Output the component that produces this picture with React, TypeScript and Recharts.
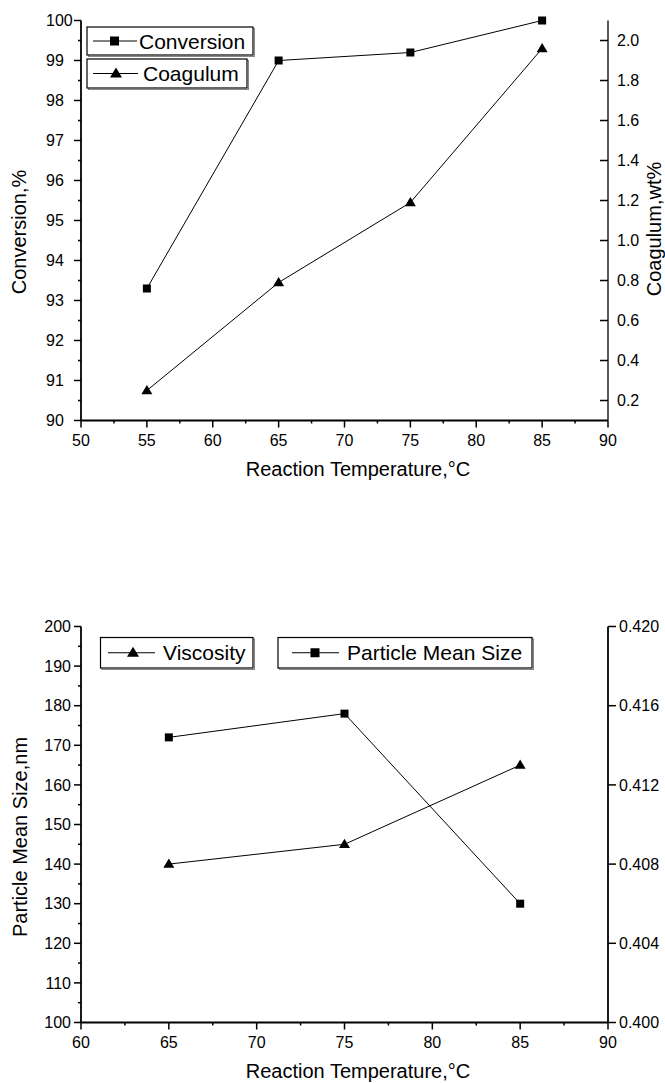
import React from 'react';
import { LineChart, Line, XAxis, YAxis } from 'recharts';

const FONT = '"Liberation Sans", Arial, Helvetica, sans-serif';

// upper panel: conversion and coagulum vs temperature
const temps1 = [55, 65, 75, 85];
const conversion = [93.3, 99.0, 99.2, 100.0];
const coagulum = [0.25, 0.79, 1.19, 1.96];

// lower panel: particle size and viscosity vs temperature
const temps2 = [65, 75, 85];
const particleSize = [172, 178, 130];
const viscosity = [0.408, 0.409, 0.413];

const xTicks1 = [50, 52.5, 55, 57.5, 60, 62.5, 65, 67.5, 70, 72.5, 75, 77.5, 80, 82.5, 85, 87.5, 90];
const convTicks = [90, 90.5, 91, 91.5, 92, 92.5, 93, 93.5, 94, 94.5, 95, 95.5, 96, 96.5, 97, 97.5, 98, 98.5, 99, 99.5, 100];
const coagTicks = [0.2, 0.4, 0.6, 0.8, 1.0, 1.2, 1.4, 1.6, 1.8, 2.0];
const xTicks2 = [60, 62.5, 65, 67.5, 70, 72.5, 75, 77.5, 80, 82.5, 85, 87.5, 90];
const sizeTicks = [100, 105, 110, 115, 120, 125, 130, 135, 140, 145, 150, 155, 160, 165, 170, 175, 180, 185, 190, 195, 200];
const viscTicks = [0.4, 0.404, 0.408, 0.412, 0.416, 0.42];

const data1 = temps1.map((t, i) => ({ t, conv: conversion[i], coag: coagulum[i] }));
const data2 = temps2.map((t, i) => ({ t, size: particleSize[i], visc: viscosity[i] }));

const txt = { fontFamily: FONT, fill: '#000' };

const Square = ({ cx, cy, s = 8 }: any) => <rect x={cx - s / 2} y={cy - s / 2} width={s} height={s} fill="#000" />;
const Tri = ({ cx, cy, s = 11 }: any) => {
  const h = s * 0.85;
  return <path d={`M${cx},${cy - h * 0.6}L${cx + s / 2},${cy + h * 0.4}L${cx - s / 2},${cy + h * 0.4}Z`} fill="#000" />;
};

const sqDot = (p: any) => <Square key={`s${p.index}`} cx={p.cx} cy={p.cy} />;
const triDot = (p: any) => <Tri key={`t${p.index}`} cx={p.cx} cy={p.cy} />;

// tick renderers (tickSize/tickMargin = 0 so x,y sit on the axis line)
const xTick = (p: any) => {
  const v = p.payload.value;
  const major = v % 5 === 0;
  return (
    <g>
      <line x1={p.x} x2={p.x} y1={p.y} y2={p.y + (major ? 7 : 3)} stroke="#000" strokeWidth={1.5} />
      {major && (
        <text x={p.x} y={p.y + 25.5} textAnchor="middle" fontSize={16} style={txt}>
          {v}
        </text>
      )}
    </g>
  );
};

const leftTick = (isMajor: (v: number) => boolean, anchor: 'start' | 'end', dx: number) => (p: any) => {
  const v = p.payload.value;
  const major = isMajor(v);
  return (
    <g>
      <line x1={p.x - (major ? 7 : 3)} x2={p.x} y1={p.y} y2={p.y} stroke="#000" strokeWidth={1.5} />
      {major && (
        <text x={p.x + dx} y={p.y} dy="0.36em" textAnchor={anchor} fontSize={16} style={txt}>
          {v}
        </text>
      )}
    </g>
  );
};

const rightTick = (inward: boolean, digits: number, dx: number) => (p: any) => {
  const v = p.payload.value;
  return (
    <g>
      <line x1={p.x} x2={p.x + (inward ? -8 : 8)} y1={p.y} y2={p.y} stroke="#000" strokeWidth={1.5} />
      <text x={p.x + dx} y={p.y} dy="0.36em" textAnchor="start" fontSize={16} style={txt}>
        {v.toFixed(digits)}
      </text>
    </g>
  );
};

const axisLine = { stroke: '#000', strokeWidth: 1.8 };
const frameLine = { stroke: '#000', strokeWidth: 1.3 };

const TopChart = () => (
  <LineChart width={665} height={500} data={data1} margin={{ top: 20.5, right: 0, bottom: 49.5, left: 0 }}>
    <XAxis xAxisId="b" dataKey="t" type="number" domain={[50, 90]} ticks={xTicks1} interval={0}
      height={30} tickSize={0} tickMargin={0} tickLine={false} axisLine={axisLine} tick={xTick} />
    <XAxis xAxisId="top" orientation="top" dataKey="t" type="number" domain={[50, 90]}
      height={0} tick={false} tickLine={false} axisLine={frameLine} />
    <YAxis yAxisId="left" type="number" domain={[90, 100]} ticks={convTicks} interval={0}
      width={81} tickSize={0} tickMargin={0} tickLine={false} axisLine={axisLine}
      tick={leftTick((v) => Number.isInteger(v), 'start', -35)} />
    <YAxis yAxisId="right" orientation="right" type="number" domain={[0.1, 2.1]} ticks={coagTicks} interval={0}
      width={57} tickSize={0} tickMargin={0} tickLine={false} axisLine={frameLine}
      tick={rightTick(true, 1, 9)} />
    <Line xAxisId="b" yAxisId="left" dataKey="conv" stroke="#000" strokeWidth={1} dot={sqDot}
      activeDot={false} isAnimationActive={false} />
    <Line xAxisId="b" yAxisId="right" dataKey="coag" stroke="#000" strokeWidth={1} dot={triDot}
      activeDot={false} isAnimationActive={false} />
  </LineChart>
);

const BottomChart = () => (
  <LineChart width={665} height={583} data={data2} margin={{ top: 126.5, right: 0, bottom: 30.5, left: 0 }}>
    <XAxis xAxisId="b" dataKey="t" type="number" domain={[60, 90]} ticks={xTicks2} interval={0}
      height={30} tickSize={0} tickMargin={0} tickLine={false} axisLine={axisLine} tick={xTick} />
    <XAxis xAxisId="top" orientation="top" dataKey="t" type="number" domain={[60, 90]}
      height={0} tick={false} tickLine={false} axisLine={axisLine} />
    <YAxis yAxisId="left" type="number" domain={[100, 200]} ticks={sizeTicks} interval={0}
      width={81} tickSize={0} tickMargin={0} tickLine={false} axisLine={axisLine}
      tick={leftTick((v) => v % 10 === 0, 'end', -10)} />
    <YAxis yAxisId="right" orientation="right" type="number" domain={[0.4, 0.42]} ticks={viscTicks} interval={0}
      width={57} tickSize={0} tickMargin={0} tickLine={false} axisLine={axisLine}
      tick={rightTick(false, 3, 11)} />
    <Line xAxisId="b" yAxisId="left" dataKey="size" stroke="#000" strokeWidth={1} dot={sqDot}
      activeDot={false} isAnimationActive={false} />
    <Line xAxisId="b" yAxisId="right" dataKey="visc" stroke="#000" strokeWidth={1} dot={triDot}
      activeDot={false} isAnimationActive={false} />
  </LineChart>
);

const LegendBox = ({ x, y, w, h, l1, l2, mx, tx, label, marker }: any) => (
  <g>
    <rect x={x + 1.5} y={y + 1.5} width={w} height={h} fill="none" stroke="#888" strokeWidth={1} />
    <rect x={x} y={y} width={w} height={h} fill="#fff" stroke="#000" strokeWidth={1.2} />
    <line x1={l1} x2={l2} y1={y + h / 2} y2={y + h / 2} stroke="#000" strokeWidth={1} />
    {marker === 'sq' ? <Square cx={mx} cy={y + h / 2} s={9} /> : <Tri cx={mx} cy={y + h / 2} s={12} />}
    <text x={tx} y={y + h / 2} dy="0.36em" fontSize={21} style={txt}>{label}</text>
  </g>
);

const Overlay = () => (
  <svg width={665} height={1083} style={{ position: 'absolute', left: 0, top: 0, pointerEvents: 'none' }}>
    <LegendBox x={87} y={27} w={166} h={28} l1={93} l2={137} mx={114.5} tx={139} label="Conversion" marker="sq" />
    <LegendBox x={87} y={59} w={160} h={29} l1={93} l2={138} mx={116} tx={143} label="Coagulum" marker="tri" />
    <LegendBox x={100.5} y={637.5} w={152.5} h={30.5} l1={108} l2={155} mx={133} tx={163} label="Viscosity" marker="tri" />
    <LegendBox x={278} y={637.5} w={254} h={30.5} l1={292} l2={339} mx={315} tx={347} label="Particle Mean Size" marker="sq" />

    <text x={358} y={476} textAnchor="middle" fontSize={20} style={txt}>Reaction Temperature,°C</text>
    <text x={358} y={1078} textAnchor="middle" fontSize={20} style={txt}>Reaction Temperature,°C</text>
    <text x={25.5} y={232} textAnchor="middle" fontSize={20} transform="rotate(-90 25.5 232)" style={txt}>Conversion,%</text>
    <text x={661} y={229} textAnchor="middle" fontSize={20} transform="rotate(-90 661 229)" style={txt}>Coagulum,wt%</text>
    <text x={26.5} y={837} textAnchor="middle" fontSize={20} transform="rotate(-90 26.5 837)" style={txt}>Particle Mean Size,nm</text>
  </svg>
);

export default function App() {
  return (
    <div style={{ position: 'absolute', left: 0, top: 0, width: 665, height: 1083, background: '#fff' }}>
      <div style={{ position: 'absolute', left: 0, top: 0 }}>
        <TopChart />
      </div>
      <div style={{ position: 'absolute', left: 0, top: 500 }}>
        <BottomChart />
      </div>
      <Overlay />
    </div>
  );
}
